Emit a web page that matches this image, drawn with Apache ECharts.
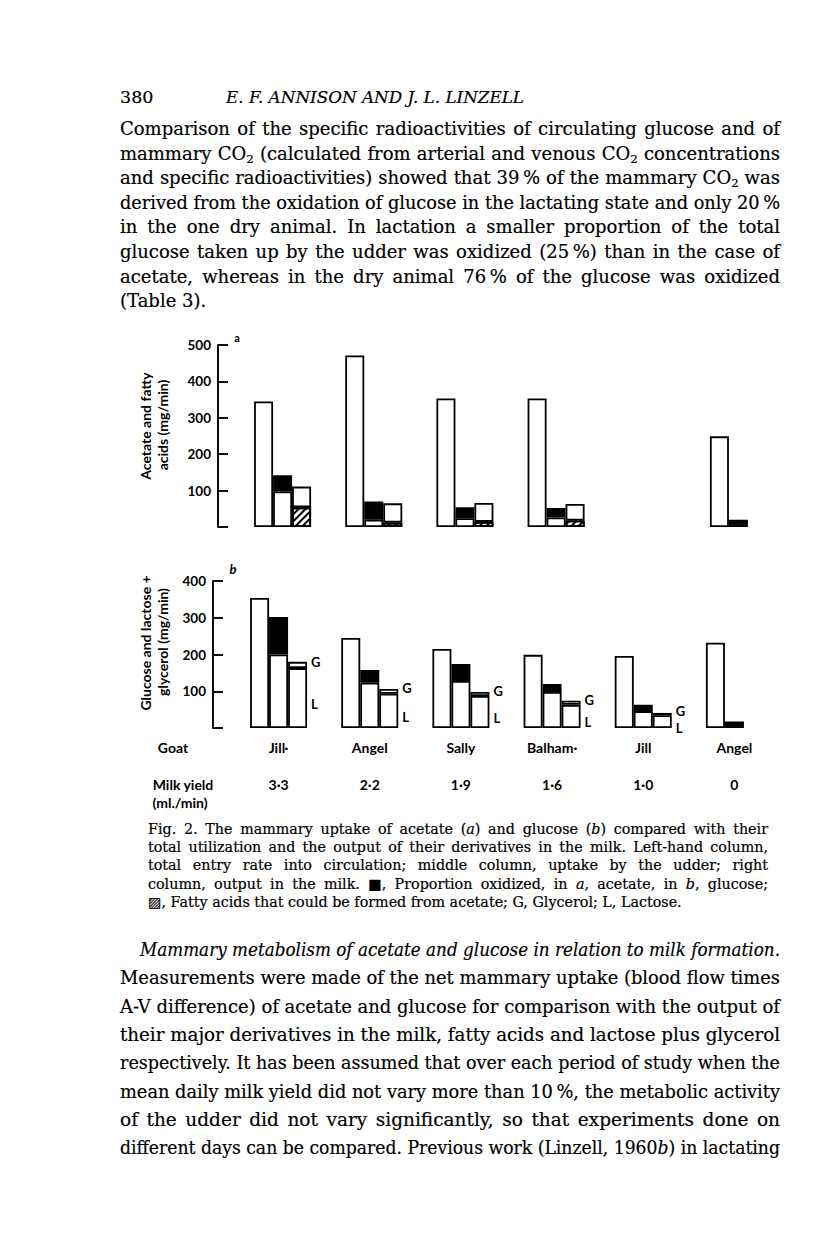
<!DOCTYPE html>
<html>
<head>
<meta charset="utf-8">
<script src="https://cdn.jsdelivr.net/npm/echarts@6.0.0/dist/echarts.min.js"></script>
<style>
  html, body { margin: 0; padding: 0; background: #fff; }
  #page { position: relative; width: 816px; height: 1249px; overflow: hidden; background: #fff; color: #000; }
  #chart { position: absolute; left: 0; top: 0; width: 816px; height: 1249px; }
  .ln { position: absolute; white-space: nowrap; font-family: "DejaVu Serif", "Liberation Serif", serif; transform-origin: 0 0; -webkit-text-stroke: 0.2px #000; }
  .top { font-size: 18px; line-height: 24px; }
  .bot { font-size: 18.5px; line-height: 26px; }
  .cap { font-size: 14.3px; line-height: 18px; }
  .hdr { font-size: 17.5px; line-height: 24px; }
  sub { font-size: 65%; vertical-align: -0.25em; line-height: 0; }
  .sym { font-family: "DejaVu Sans", sans-serif; }
</style>
</head>
<body>
<div id="page">
  <div id="chart"></div>
</div>
<script>
// ---------------- data ----------------
const goats = ['Jill·', 'Angel', 'Sally', 'Balham·', 'Jill', 'Angel'];
const milkYield = ['3·3', '2·2', '1·9', '1·6', '1·0', '0'];
// (a) acetate and fatty acids, mg/min
const aTotalEntry      = [345, 471, 353, 353, null, 249];
const aUptakeRest      = [98, 20, 24, 26, null, 8];
const aUptakeOxidized  = [44, 50, 30, 26, null, 12];
const aFattyFromAcetate= [54, 12, 14, 18, null, null];
const aFattyOther      = [57, 53, 52, 45, null, null];
// (b) glucose and lactose + glycerol, mg/min
const bTotalEntry      = [354, 245, 215, 199, 196, 232];
const bUptakeRest      = [200, 123, 128, 98, 46, null];
const bUptakeOxidized  = [102, 35, 46, 22, 17, 18];
const bLactose         = [163, 93, 87, 63, 35, null];
const bGlycerol        = [17, 13, 11, 11, 6, null];
const aTicks = { min: 0, max: 500, interval: 100 };
const bTicks = { min: 0, max: 400, interval: 100 };

// ---------------- text ----------------
const topLines = [
  'Comparison of the specific radioactivities of circulating glucose and of',
  'mammary CO<sub>2</sub> (calculated from arterial and venous CO<sub>2</sub> concentrations',
  'and specific radioactivities) showed that 39\u2009% of the mammary CO<sub>2</sub> was',
  'derived from the oxidation of glucose in the lactating state and only 20\u2009%',
  'in the one dry animal. In lactation a smaller proportion of the total',
  'glucose taken up by the udder was oxidized (25\u2009%) than in the case of',
  'acetate, whereas in the dry animal 76\u2009% of the glucose was oxidized',
  '(Table 3).'
];
const capLines = [
  'Fig. 2. The mammary uptake of acetate (<i>a</i>) and glucose (<i>b</i>) compared with their',
  'total utilization and the output of their derivatives in the milk. Left-hand column,',
  'total entry rate into circulation; middle column, uptake by the udder; right',
  'column, output in the milk. <span class="sym">■</span>, Proportion oxidized, in <i>a</i>, acetate, in <i>b</i>, glucose;',
  '<span class="sym">▨</span>, Fatty acids that could be formed from acetate; G, Glycerol; L, Lactose.'
];
const botLines = [
  '<i>Mammary metabolism of acetate and glucose in relation to milk formation.</i>',
  'Measurements were made of the net mammary uptake (blood flow times',
  'A-V difference) of acetate and glucose for comparison with the output of',
  'their major derivatives in the milk, fatty acids and lactose plus glycerol',
  'respectively. It has been assumed that over each period of study when the',
  'mean daily milk yield did not vary more than 10\u2009%, the metabolic activity',
  'of the udder did not vary significantly, so that experiments done on',
  'different days can be compared. Previous work (Linzell, 1960<i>b</i>) in lactating'
];

const page = document.getElementById('page');
function addLine(html, cls, left, cy, width, lh, justify) {
  const d = document.createElement('div');
  d.className = 'ln ' + cls;
  d.innerHTML = html;
  d.style.left = left + 'px';
  d.style.top = (cy - lh / 2) + 'px';
  page.appendChild(d);
  const w = d.getBoundingClientRect().width;
  const n = (d.textContent.match(/ /g) || []).length;
  if (w > width) {
    d.style.transform = 'scaleX(' + (width / w) + ')';
  } else if (justify && n > 0) {
    d.style.wordSpacing = ((width - w) / n) + 'px';
  }
  return d;
}
addLine('380', 'hdr', 120, 97, 100, 24, false);
const t = addLine('<i>E. F. ANNISON AND J. L. LINZELL</i>', 'hdr', 226, 97, 298, 24, false);
(function(){ const w = t.getBoundingClientRect().width; const n = t.textContent.length - 1; t.style.letterSpacing = ((298 - w) / n) + 'px'; })();

topLines.forEach((s, i) => addLine(s, 'top', 120, 129 + i * 24.6, 660, 24, i < topLines.length - 1));
capLines.forEach((s, i) => addLine(s, 'cap', 148, 829 + i * 18.2, 620, 18, i < capLines.length - 1));
botLines.forEach((s, i) => addLine(s, 'bot', i === 0 ? 140 : 120, 950 + i * 28.3, i === 0 ? 640 : 660, 26, true));

// ---------------- chart ----------------
const chart = echarts.init(document.getElementById('chart'), null, { renderer: 'svg' });
const sansFont = 'Lato, "Open Sans", sans-serif';
const box = { color: '#fff', borderColor: '#000', borderWidth: 1.8 };
const solid = { color: '#000', borderColor: '#000', borderWidth: 1.8 };
const hatch = {
  color: '#fff', borderColor: '#000', borderWidth: 1.8,
  decal: { symbol: 'rect', symbolSize: 1, dashArrayX: [[1, 0]], dashArrayY: [2, 3], rotation: -Math.PI / 4, color: '#000' }
};
function bar(name, data, stack, style, axis, extra) {
  return Object.assign({
    name, type: 'bar', data, stack, barWidth: 19, barGap: '0%',
    xAxisIndex: axis, yAxisIndex: axis,
    itemStyle: style, emphasis: { disabled: true }, silent: true
  }, extra || {});
}
const yAxisCommon = {
  type: 'value', splitLine: { show: false },
  axisLine: { show: true, lineStyle: { color: '#000', width: 1.9 } },
  axisTick: { show: true, inside: true, length: 10, lineStyle: { color: '#000', width: 1.9 } },
  axisLabel: { color: '#000', fontFamily: sansFont, fontWeight: 'bold', fontSize: 13.5, margin: 7,
    formatter: v => (v === 0 ? '' : String(v)) }
};
const catLabel = { color: '#000', fontFamily: sansFont, fontWeight: 'bold', fontSize: 14 };
const glLabel = { show: true, position: 'right', distance: 4, color: '#000', fontFamily: sansFont, fontWeight: 'bold', fontSize: 13 };

chart.setOption({
  animation: false,
  backgroundColor: 'transparent',
  grid: [
    { left: 237, top: 345, width: 547, height: 182 },
    { left: 233, top: 581, width: 547, height: 147 }
  ],
  xAxis: [
    { type: 'category', gridIndex: 0, data: goats, show: false },
    { type: 'category', gridIndex: 1, data: goats, axisLine: { show: false }, axisTick: { show: false },
      axisLabel: Object.assign({ margin: 12 }, catLabel) },
    { type: 'category', gridIndex: 1, data: milkYield, position: 'bottom', offset: 37,
      axisLine: { show: false }, axisTick: { show: false }, axisLabel: Object.assign({ margin: 12 }, catLabel) }
  ],
  yAxis: [
    Object.assign({}, yAxisCommon, { gridIndex: 0, offset: 19 }, aTicks),
    Object.assign({}, yAxisCommon, { gridIndex: 1, offset: 20 }, bTicks)
  ],
  series: [
    bar('Total entry (a)', aTotalEntry, 'a1', box, 0),
    bar('Uptake (a)', aUptakeRest, 'a2', box, 0),
    bar('Oxidized (a)', aUptakeOxidized, 'a2', solid, 0),
    bar('Fatty acids from acetate', aFattyFromAcetate, 'a3', hatch, 0),
    bar('Fatty acids output', aFattyOther, 'a3', box, 0),
    bar('Total entry (b)', bTotalEntry, 'b1', box, 1),
    bar('Uptake (b)', bUptakeRest, 'b2', box, 1),
    bar('Oxidized (b)', bUptakeOxidized, 'b2', solid, 1),
    bar('Lactose', bLactose, 'b3', box, 1, { label: Object.assign({}, glLabel, { formatter: 'L', offset: [0, 6] }) }),
    bar('Glycerol', bGlycerol, 'b3', box, 1, { label: Object.assign({}, glLabel, { formatter: 'G', offset: [0, -3] }) })
  ],
  graphic: [
    { type: 'text', x: 145, y: 426, rotation: Math.PI / 2, style: { text: 'Acetate and fatty', fill: '#000', font: 'bold 14px ' + sansFont, align: 'center', verticalAlign: 'middle' } },
    { type: 'text', x: 162, y: 425, rotation: Math.PI / 2, style: { text: 'acids (mg/min)', fill: '#000', font: 'bold 14px ' + sansFont, align: 'center', verticalAlign: 'middle' } },
    { type: 'text', x: 145, y: 643, rotation: Math.PI / 2, style: { text: 'Glucose and lactose +', fill: '#000', font: 'bold 14px ' + sansFont, align: 'center', verticalAlign: 'middle' } },
    { type: 'text', x: 162, y: 642, rotation: Math.PI / 2, style: { text: 'glycerol (mg/min)', fill: '#000', font: 'bold 14px ' + sansFont, align: 'center', verticalAlign: 'middle' } },
    { type: 'text', x: 237, y: 337, style: { text: 'a', fill: '#000', font: 'bold 11px ' + sansFont, align: 'center', verticalAlign: 'middle' } },
    { type: 'text', x: 233, y: 569, style: { text: 'b', fill: '#000', font: 'italic bold 13px ' + sansFont, align: 'center', verticalAlign: 'middle' } },
    { type: 'text', x: 173, y: 747, style: { text: 'Goat', fill: '#000', font: 'bold 14px ' + sansFont, align: 'center', verticalAlign: 'middle' } },
    { type: 'text', x: 183, y: 784, style: { text: 'Milk yield', fill: '#000', font: 'bold 14px ' + sansFont, align: 'center', verticalAlign: 'middle' } },
    { type: 'text', x: 180, y: 802, style: { text: '(ml./min)', fill: '#000', font: 'bold 14px ' + sansFont, align: 'center', verticalAlign: 'middle' } }
  ]
});
</script>
</body>
</html>
